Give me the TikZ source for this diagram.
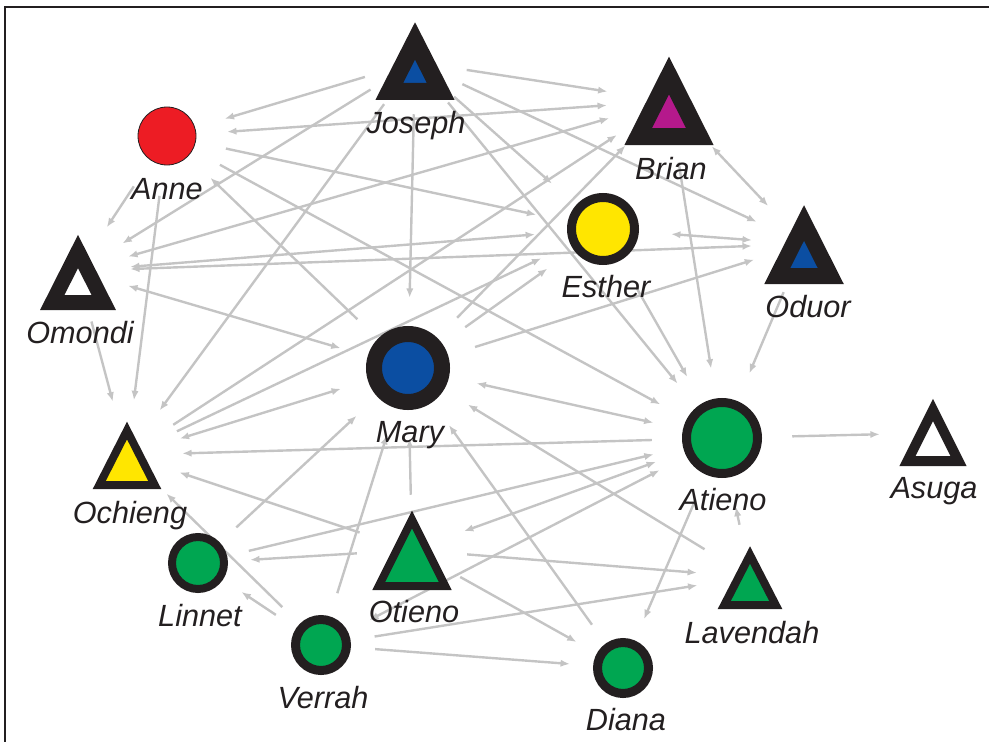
\documentclass[tikz,border=0pt]{standalone}
\usepackage{fontspec}
\setmainfont{Liberation Sans}
\usetikzlibrary{arrows.meta}

\definecolor{ink}{HTML}{231F20}
\definecolor{tiegray}{HTML}{C4C4C4}
\definecolor{deepblue}{HTML}{0B4EA2}
\definecolor{leaf}{HTML}{00A651}
\definecolor{sun}{HTML}{FFE600}
\definecolor{plum}{HTML}{B5198C}
\definecolor{rose}{HTML}{ED1C24}

% triangle mark: centre node, apex dy, base dy, half width, line width, fill
\newcommand{\trimark}[6]{%
  \filldraw[ink, line join=miter, line width=#5, fill=#6, shift={(#1.center)}]
    (0,#2) -- (#4,#3) -- (-#4,#3) -- cycle;}

\begin{document}
\begin{tikzpicture}
  [x=0.75pt, y=-0.75pt,
   hub/.style={circle, inner sep=0pt, minimum size=#1},
   tie/.style={draw=tiegray, line width=1.8pt, -{Latex[length=7pt,width=5.5pt]}},
   tieback/.style={draw=tiegray, line width=1.8pt, {Latex[length=7pt,width=5.5pt]}-},
   tiepair/.style={draw=tiegray, line width=1.8pt,
     {Latex[length=7pt,width=5.5pt]}-{Latex[length=7pt,width=5.5pt]}},
   ring/.style={draw=ink, fill=#1},
   tag/.style={anchor=base, text=ink, font=\fontsize{23}{27}\selectfont\itshape}]

  \useasboundingbox (0,0) rectangle (989,742);
  \draw[ink, line width=1.8pt] (5,742) -- (5,7) -- (989,7);

  % people and ties
  \node[hub=78pt] (joseph) at (415,62) {};

  \node[hub=90pt] (anne) at (167,136) {}
    edge [tieback] (joseph);

  \node[hub=78pt] (omondi) at (78,271) {}
    edge [tieback] (joseph)
    edge [tieback] (anne);

  \node[hub=93pt] (brian) at (669,101) {}
    edge [tieback] (joseph)
    edge [tiepair] (anne)
    edge [tiepair] (omondi);

  \node[hub=102pt] (esther) at (603,229) {}
    edge [tieback] (joseph)
    edge [tieback] (anne)
    edge [tiepair] (omondi);

  \node[hub=78pt] (oduor) at (804,244) {}
    edge [tieback] (joseph)
    edge [tiepair] (omondi)
    edge [tiepair] (brian)
    edge [tiepair] (esther);

  \node[hub=105pt] (mary) at (408,368) {}
    edge [tieback] (joseph)
    edge [tie] (anne)
    edge [tiepair] (omondi)
    edge [tie] (brian)
    edge [tie] (esther)
    edge [tie] (oduor);

  \node[hub=82.5pt] (ochieng) at (127,455) {}
    edge [tieback] (joseph)
    edge [tieback] (anne)
    edge [tieback] (omondi)
    edge [tie] (brian)
    edge [tie] (esther)
    edge [tiepair] (mary);

  \node[hub=78pt] (linnet) at (198,563) {}
    edge [tie] (mary);

  \node[hub=81pt] (verrah) at (321,645) {}
    edge [tie] (ochieng)
    edge [tie] (linnet)
    edge [tie] (mary);

  \node[hub=82.5pt] (otieno) at (412,550) {}
    edge [tie] (mary)
    edge [tie] (ochieng)
    edge [tie] (linnet);

  \node[hub=105pt] (atieno) at (722,438) {}
    edge [tieback] (joseph)
    edge [tieback] (anne)
    edge [tieback] (brian)
    edge [tieback] (esther)
    edge [tieback] (oduor)
    edge [tiepair] (mary)
    edge [tie] (ochieng)
    edge [tieback] (linnet)
    edge [tiepair] (verrah)
    edge [tiepair] (otieno);

  \node[hub=79.5pt] (asuga) at (933,433) {}
    edge [tieback] (atieno);

  \node[hub=79.5pt] (lavendah) at (750,577) {}
    edge [tieback] (otieno)
    edge [tieback] (verrah)
    edge [tie] (mary)
    edge [tie] (atieno);

  \node[hub=79.5pt] (diana) at (623,668) {}
    edge [tie] (mary)
    edge [tieback] (otieno)
    edge [tieback] (verrah)
    edge [tieback] (atieno);

  % marks
  \trimark{joseph}{-21}{29.5}{25.75}{12.75pt}{deepblue}
  \trimark{brian}{-25.5}{35.5}{30.75}{12.75pt}{plum}
  \trimark{omondi}{-19.5}{31.5}{25.75}{11.25pt}{white}
  \trimark{oduor}{-21}{32}{26.75}{12pt}{deepblue}
  \trimark{ochieng}{-24.5}{30}{27.75}{6pt}{sun}
  \trimark{otieno}{-30.5}{36}{33.25}{6pt}{leaf}
  \trimark{asuga}{-23}{28}{25.5}{7.5pt}{white}
  \trimark{lavendah}{-22}{28}{25.75}{6pt}{leaf}

  \filldraw[ring=rose, line width=0.6pt] (anne.center) circle[radius=29];
  \filldraw[ring=deepblue, line width=12pt] (mary.center) circle[radius=34];
  \filldraw[ring=sun, line width=6.75pt] (esther.center) circle[radius=31.5];
  \filldraw[ring=leaf, line width=6.75pt] (atieno.center) circle[radius=35.5];
  \filldraw[ring=leaf, line width=6pt] (linnet.center) circle[radius=26];
  \filldraw[ring=leaf, line width=6.75pt] (verrah.center) circle[radius=25.5];
  \filldraw[ring=leaf, line width=6.75pt] (diana.center) circle[radius=25.5];

  % names
  \node[tag] (josephtag) at (416,133) {Joseph};
  \node[tag] (annetag) at (167,199) {Anne};
  \node[tag] (omonditag) at (80,343) {Omondi};
  \node[tag] (briantag) at (671,179) {Brian};
  \node[tag] (esthertag) at (606,297) {Esther};
  \node[tag] (oduortag) at (808,317) {Oduor};
  \node[tag] (marytag) at (410,442) {Mary};
  \node[tag] (ochiengtag) at (130,523) {Ochieng};
  \node[tag] (linnettag) at (200,626) {Linnet};
  \node[tag] (verrahtag) at (323,708) {Verrah};
  \node[tag] (otienotag) at (414,622) {Otieno};
  \node[tag] (atienotag) at (723,510) {Atieno};
  \node[tag] (asugatag) at (934,498) {Asuga};
  \node[tag] (lavendahtag) at (752,643) {Lavendah};
  \node[tag] (dianatag) at (626,730) {Diana};

\end{tikzpicture}
\end{document}
